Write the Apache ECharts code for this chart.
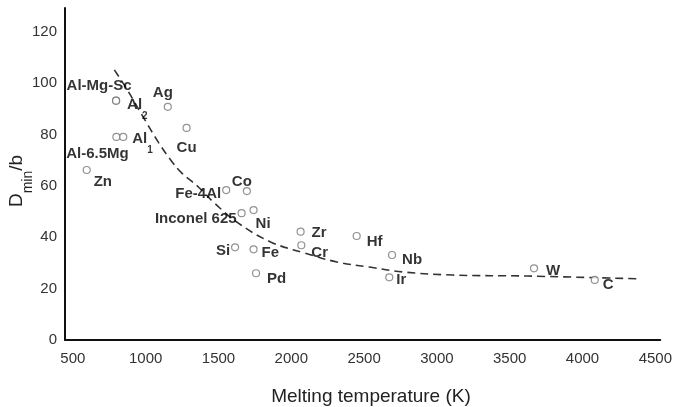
<!DOCTYPE html>
<html>
<head>
<meta charset="utf-8">
<script src="https://cdn.jsdelivr.net/npm/echarts@6/dist/echarts.min.js"></script>
<style>
html,body{margin:0;padding:0;background:#fff;}
#c{width:675px;height:407px;}
</style>
</head>
<body>
<div id="c"></div>
<script>
// ---- data ----
const names = ['Al-Mg-Sc','Al_2','Ag','Cu','Al-6.5Mg','Al_1','Zn','Fe-4Al','Co','Inconel 625','Ni','Si','Fe','Pd','Zr','Cr','Hf','Nb','Ir','W','C'];
const meltT = [797, 797, 1152, 1281, 799, 846, 595, 1553, 1695, 1659, 1741, 1614, 1741, 1758, 2064, 2069, 2449, 2692, 2673, 3667, 4084];
const dminB = [93.2, 93.2, 90.8, 82.6, 79.1, 79.1, 66.2, 58.4, 58.0, 49.4, 50.6, 36.1, 35.3, 26.0, 42.2, 36.9, 40.5, 33.1, 24.4, 27.9, 23.4];

// dashed trend curve
const fitT = [785, 874, 975, 1091, 1172, 1247, 1362, 1471, 1634, 1858, 2089, 2313, 2537, 2768, 3108, 3624, 4398];
const fitD = [105.2, 97.4, 87.6, 76.7, 70.1, 65.1, 59.6, 53.4, 45.6, 38.2, 33.9, 30.4, 28.4, 26.5, 25.3, 24.9, 23.8];

const xTicks = [500, 1000, 1500, 2000, 2500, 3000, 3500, 4000, 4500];
const yTicks = [0, 20, 40, 60, 80, 100, 120];

// ---- label placement (style only) : [dx, dy, align] relative to point centre ----
const labelPlace = [
  [-17, -13, 'center'], [11, 9, 'left'], [-5, -12, 'center'], [0, 21, 'center'],
  [-19, 18, 'center'], [9, 6, 'left'], [7, 13, 'left'], [-5, 5, 'right'],
  [-5, -8, 'center'], [-5, 7, 'right'], [2, 15, 'left'], [-5, 5, 'right'],
  [8, 5, 'left'], [11, 7, 'left'], [11, 3, 'left'], [10, 9, 'left'],
  [10, 7, 'left'], [10, 6, 'left'], [7, 4, 'left'], [12, 4, 'left'], [8, 6, 'left']
];

const FONT = '"Liberation Sans", Arial, sans-serif';

const scatterData = names.map((n, i) => {
  const p = labelPlace[i];
  return {
    name: n,
    value: [meltT[i], dminB[i]],
    label: { position: 'inside', offset: [p[0], p[1]], align: p[2], verticalAlign: 'middle' }
  };
});

const chart = echarts.init(document.getElementById('c'), null, { renderer: 'canvas' });
chart.setOption({
  backgroundColor: '#fff',
  animation: false,
  grid: { left: 65, right: 8, top: 8, bottom: 67, containLabel: false },
  xAxis: {
    type: 'value', min: 446, max: 4534,
    axisLine: { show: true, lineStyle: { color: '#111', width: 2 } },
    axisTick: { show: false },
    splitLine: { show: false },
    axisLabel: { customValues: xTicks, formatter: (v) => String(v), color: '#333', fontSize: 15, fontFamily: FONT, margin: 11 }
  },
  yAxis: {
    type: 'value', min: 0, max: 129.3,
    axisLine: { show: true, onZero: false, lineStyle: { color: '#111', width: 2 } },
    axisTick: { show: false },
    splitLine: { show: false },
    axisLabel: { customValues: yTicks, formatter: (v) => String(v), color: '#333', fontSize: 15, fontFamily: FONT, margin: 8 }
  },
  graphic: [
    {
      type: 'text', x: 371, y: 397,
      style: { text: 'Melting temperature (K)', fill: '#222', font: '19px ' + FONT, align: 'center', verticalAlign: 'middle' }
    },
    {
      type: 'text', x: 21, y: 181, rotation: Math.PI / 2,
      style: {
        text: '{d|D}{s|min}{d|/b}', align: 'center', verticalAlign: 'middle',
        rich: {
          d: { fontSize: 19, fontFamily: FONT, fill: '#222', color: '#222', lineHeight: 22, verticalAlign: 'top' },
          s: { fontSize: 14, fontFamily: FONT, fill: '#222', color: '#222', lineHeight: 28, verticalAlign: 'bottom' }
        }
      }
    }
  ],
  series: [
    {
      type: 'line',
      data: fitT.map((t, i) => [t, fitD[i]]),
      smooth: 0.4,
      showSymbol: false,
      lineStyle: { color: '#333', width: 1.6, type: [8, 5] },
      z: 2
    },
    {
      type: 'scatter',
      data: scatterData,
      symbol: 'circle',
      symbolSize: 7,
      itemStyle: { color: '#fff', borderColor: '#777', borderWidth: 1.2 },
      label: {
        show: true,
        color: '#000',
        textBorderWidth: 0,
        textBorderColor: 'transparent',
        fontFamily: FONT,
        fontWeight: 'bold',
        fontSize: 15,
        formatter: (p) => {
          const parts = p.name.split('_');
          return parts.length > 1 ? '{n|' + parts[0] + '}{s|' + parts[1] + '}' : '{n|' + p.name + '}';
        },
        rich: {
          n: { fontSize: 15, fontWeight: 'bold', fontFamily: FONT, color: '#000', textBorderWidth: 0, lineHeight: 18, verticalAlign: 'top' },
          s: { fontSize: 10, fontWeight: 'bold', fontFamily: FONT, color: '#000', textBorderWidth: 0, lineHeight: 24, verticalAlign: 'bottom' }
        }
      },
      z: 3
    }
  ]
});
</script>
</body>
</html>
